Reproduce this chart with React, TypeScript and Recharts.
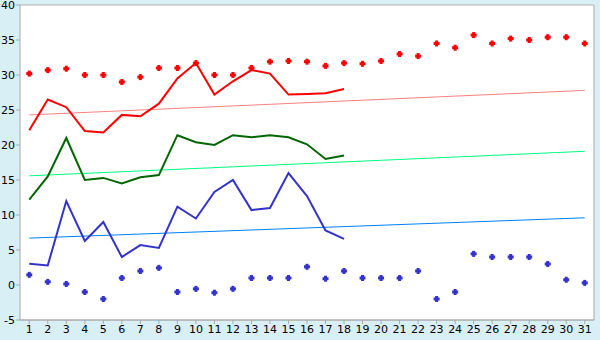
import { CartesianGrid, ComposedChart, Line, XAxis, YAxis } from 'recharts'

const days = Array.from({ length: 31 }, (_, i) => String(i + 1))

const recordHigh = [30.2, 30.7, 30.9, 30.0, 30.0, 29.0, 29.7, 31.0, 31.0, 31.7, 30.0, 30.0, 31.0, 31.9, 32.0, 31.9, 31.3, 31.7, 31.6, 32.0, 33.0, 32.7, 34.5, 33.9, 35.7, 34.5, 35.2, 35.0, 35.4, 35.4, 34.5]
const recordLow = [1.45, 0.45, 0.15, -1.0, -2.0, 1.0, 2.0, 2.45, -1.0, -0.55, -1.1, -0.55, 1.0, 1.0, 1.0, 2.6, 0.9, 2.0, 1.0, 1.0, 1.0, 2.0, -2.0, -1.0, 4.45, 4.0, 4.0, 4.0, 3.0, 0.75, 0.3]
const maxTemp = [22.1, 26.5, 25.4, 22.0, 21.8, 24.3, 24.1, 25.9, 29.5, 31.7, 27.2, 29.1, 30.7, 30.2, 27.2, 27.3, 27.4, 28.0]
const meanTemp = [12.2, 15.5, 21.0, 15.0, 15.3, 14.5, 15.4, 15.7, 21.4, 20.4, 20.0, 21.4, 21.1, 21.4, 21.1, 20.1, 18.0, 18.5]
const minTemp = [3.05, 2.8, 12.0, 6.3, 9.0, 4.0, 5.7, 5.3, 11.2, 9.5, 13.3, 15.0, 10.7, 11.0, 16.0, 12.7, 7.8, 6.6]
// trend lines: value on day 1 and on day 31
const maxTrend = [24.3, 27.8]
const meanTrend = [15.6, 19.1]
const minTrend = [6.7, 9.6]
const yTicks = [-5, 0, 5, 10, 15, 20, 25, 30, 35, 40]

const data = days.map((d, i) => ({
  day: d,
  recHigh: recordHigh[i],
  recLow: recordLow[i],
  max: maxTemp[i] ?? null,
  mean: meanTemp[i] ?? null,
  min: minTemp[i] ?? null,
  maxT: i === 0 ? maxTrend[0] : i === 30 ? maxTrend[1] : null,
  meanT: i === 0 ? meanTrend[0] : i === 30 ? meanTrend[1] : null,
  minT: i === 0 ? minTrend[0] : i === 30 ? minTrend[1] : null,
}))

function Cross(color: string) {
  return (props: any) => {
    const { cx, cy, index } = props
    if (cx == null || cy == null || props.value == null) return <g key={index} />
    return (
      <g key={index}>
        <rect x={cx - 1.5} y={cy - 3} width={3} height={6} fill={color} />
        <rect x={cx - 3} y={cy - 1.5} width={6} height={3} fill={color} />
      </g>
    )
  }
}

const tickStyle = { fontSize: 11, fontFamily: 'DejaVu Sans', fill: '#000' }

export default function App() {
  return (
    <div style={{ position: 'absolute', left: 0, top: 0, width: 600, height: 340, background: '#d9eff6' }}>
      <ComposedChart
        width={600}
        height={340}
        data={data}
        margin={{ top: 5, right: 5, bottom: 0, left: 0 }}
        style={{ background: '#d9eff6' }}
      >
        <CartesianGrid vertical={false} stroke="#b0b0b0" fill="#fff" />
        <XAxis
          dataKey="day"
          scale="band"
          height={20}
          interval={0}
          tick={tickStyle}
          tickSize={4}
          tickMargin={1}
          stroke="#a8a8a8"
        />
        <YAxis
          yAxisId="l"
          domain={[-5, 40]}
          ticks={yTicks}
          width={20}
          tick={tickStyle}
          tickSize={4}
          tickMargin={1}
          interval={0}
          stroke="#a8a8a8"
          allowDataOverflow
        />
        <YAxis yAxisId="r" orientation="right" width={1} tick={false} tickLine={false} stroke="#a8a8a8" domain={[-5, 40]} />
        <Line yAxisId="l" dataKey="maxT" stroke="#ff8080" strokeWidth={1} dot={false} connectNulls isAnimationActive={false} />
        <Line yAxisId="l" dataKey="meanT" stroke="#00ff80" strokeWidth={1} dot={false} connectNulls isAnimationActive={false} />
        <Line yAxisId="l" dataKey="minT" stroke="#0080ff" strokeWidth={1} dot={false} connectNulls isAnimationActive={false} />
        <Line yAxisId="l" dataKey="max" stroke="#ff0000" strokeWidth={2} dot={false} isAnimationActive={false} />
        <Line yAxisId="l" dataKey="mean" stroke="#006600" strokeWidth={2} dot={false} isAnimationActive={false} />
        <Line yAxisId="l" dataKey="min" stroke="#3333cc" strokeWidth={2} dot={false} isAnimationActive={false} />
        <Line yAxisId="l" dataKey="recHigh" stroke="none" dot={Cross('#ff0000')} activeDot={false} isAnimationActive={false} />
        <Line yAxisId="l" dataKey="recLow" stroke="none" dot={Cross('#3333cc')} activeDot={false} isAnimationActive={false} />
      </ComposedChart>
    </div>
  )
}
